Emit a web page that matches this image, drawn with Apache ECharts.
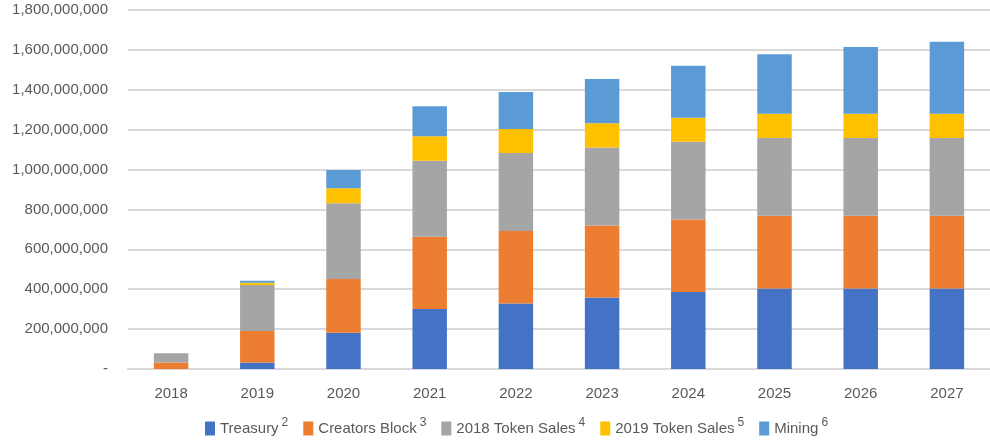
<!DOCTYPE html>
<html lang="en">

<head>
    <meta charset="UTF-8">
    <title>Token supply</title>
</head>

<body style="margin:0">
    <div id="main" style="width: 990px;height:440px;"></div>
</body>
<script src="https://cdn.jsdelivr.net/npm/echarts@6/dist/echarts.min.js"></script>

<script>
    // years on the x axis
    var years = ['2018', '2019', '2020', '2021', '2022', '2023', '2024', '2025', '2026', '2027'];
    // stacked pieces, in tokens
    var treasury = [0, 32e6, 182e6, 301e6, 329e6, 358e6, 386e6, 403e6, 403e6, 403e6];
    var creators = [32e6, 158e6, 269e6, 362e6, 363e6, 362e6, 363e6, 366e6, 366e6, 366e6];
    var sales2018 = [47e6, 231e6, 380e6, 381e6, 391e6, 391e6, 391e6, 389e6, 389e6, 389e6];
    var sales2019 = [0, 12e6, 75e6, 123e6, 120e6, 121e6, 120e6, 122e6, 122e6, 122e6];
    var mining = [0, 9e6, 92e6, 150e6, 186e6, 222e6, 261e6, 298e6, 335e6, 361e6];
    // footnote numbers in the legend
    var notes = { 'Treasury': '2', 'Creators Block': '3', '2018 Token Sales': '4', '2019 Token Sales': '5', 'Mining': '6' };

    var font = 'Liberation Sans';
    var myChart = echarts.init(document.getElementById('main'));

    function bar(name, data, color) {
        return {
            name: name,
            type: 'bar',
            stack: 'total',
            barWidth: '40%',
            data: data,
            itemStyle: { color: color },
            emphasis: { disabled: true }
        };
    }

    myChart.setOption({
        animation: false,
        grid: { left: 128, top: 10, width: 873, height: 359, containLabel: false },
        legend: {
            left: 200,
            top: 412,
            itemWidth: 10,
            itemHeight: 14,
            itemGap: 15,
            icon: 'rect',
            formatter: function (name) {
                return name + '{s|' + notes[name] + '}';
            },
            textStyle: {
                fontFamily: font,
                fontSize: 15,
                color: '#595959',
                rich: {
                    s: { fontFamily: font, fontSize: 12, color: '#595959', padding: [0, 0, 11, 3] }
                }
            }
        },
        xAxis: {
            type: 'category',
            data: years,
            axisLine: { lineStyle: { color: '#D9D9D9', width: 2 } },
            axisTick: { show: false },
            axisLabel: { fontFamily: font, fontSize: 15, color: '#595959', margin: 17 }
        },
        yAxis: {
            type: 'value',
            min: 0,
            max: 1800000000,
            interval: 200000000,
            axisLine: { show: false },
            axisTick: { show: false },
            splitLine: { lineStyle: { color: '#D9D9D9', width: 2 } },
            axisLabel: {
                fontFamily: font,
                fontSize: 15,
                color: '#595959',
                margin: 20,
                formatter: function (v) {
                    return v === 0 ? '-' : v.toLocaleString('en-US');
                }
            }
        },
        series: [
            bar('Treasury', treasury, '#4472C4'),
            bar('Creators Block', creators, '#ED7D31'),
            bar('2018 Token Sales', sales2018, '#A5A5A5'),
            bar('2019 Token Sales', sales2019, '#FFC000'),
            bar('Mining', mining, '#5B9BD5')
        ]
    });
</script>

</html>
